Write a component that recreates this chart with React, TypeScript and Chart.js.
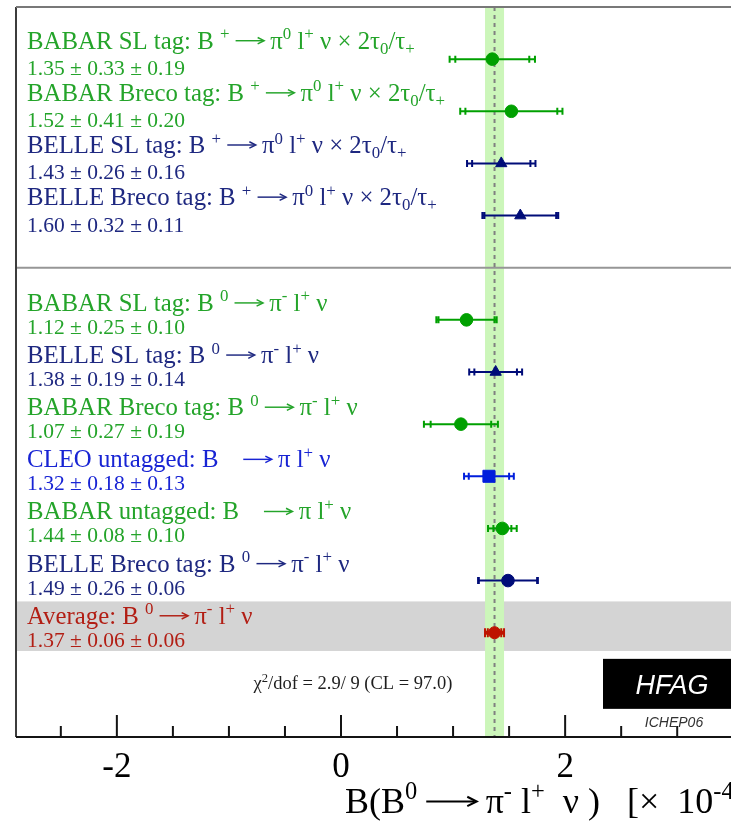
import React, { useEffect, useRef } from 'react';
import { Chart, registerables } from 'chart.js';
Chart.register(...registerables);

// ---------- data ----------
const labels = [
  'BABAR SL tag: B ^{+} → π^{0} l^{+} ν × 2τ_{0}/τ_{+}',
  'BABAR Breco tag: B ^{+} → π^{0} l^{+} ν × 2τ_{0}/τ_{+}',
  'BELLE SL tag: B ^{+} → π^{0} l^{+} ν × 2τ_{0}/τ_{+}',
  'BELLE Breco tag: B ^{+} → π^{0} l^{+} ν × 2τ_{0}/τ_{+}',
  'BABAR SL tag: B ^{0} → π^{-} l^{+} ν',
  'BELLE SL tag: B ^{0} → π^{-} l^{+} ν',
  'BABAR Breco tag: B ^{0} → π^{-} l^{+} ν',
  'CLEO untagged: B    → π l^{+} ν',
  'BABAR untagged: B    → π l^{+} ν',
  'BELLE Breco tag: B ^{0} → π^{-} l^{+} ν',
  'Average: B ^{0} → π^{-} l^{+} ν',
];
const values = [1.35, 1.52, 1.43, 1.60, 1.12, 1.38, 1.07, 1.32, 1.44, 1.49, 1.37];
const statErr = [0.33, 0.41, 0.26, 0.32, 0.25, 0.19, 0.27, 0.18, 0.08, 0.26, 0.06];
const systErr = [0.19, 0.20, 0.16, 0.11, 0.10, 0.14, 0.19, 0.13, 0.10, 0.06, 0.06];
const rows = [0, 1, 2, 3, 5, 6, 7, 8, 9, 10, 11];
const experiments = ['BABAR', 'BABAR', 'BELLE', 'BELLE', 'BABAR', 'BELLE', 'BABAR', 'CLEO', 'BABAR', 'BELLE', 'AVG'];
const markerStyles = ['circle', 'circle', 'triangle', 'triangle', 'circle', 'triangle', 'circle', 'rect', 'circle', 'circle', 'circle'];
const separatorRow = 4;
const infoRow = 12;
const xLabelledTicks = [-2, 0, 2];
const chi2Text = 'χ^{2}/dof = 2.9/ 9 (CL = 97.0)';
const xTitle = 'B(B^{0} → π^{-} l^{+}  ν )   [×  10^{-4}';
const logoText = 'HFAG';
const logoSub = 'ICHEP06';

const textColors: Record<string, string> = {
  BABAR: 'rgb(36,164,42)',
  BELLE: 'rgb(30,40,128)',
  CLEO: 'rgb(24,36,212)',
  AVG: 'rgb(178,30,20)',
};
const markerColors: Record<string, string> = {
  BABAR: 'rgb(0,160,0)',
  BELLE: 'rgb(0,12,120)',
  CLEO: 'rgb(0,30,220)',
  AVG: 'rgb(190,20,0)',
};

const SERIF = '"Liberation Serif", "DejaVu Serif", serif';
const SANS = '"Liberation Sans", Arial, sans-serif';

type Part = { t: string; k: number };

function parseRich(s: string): Part[] {
  const parts: Part[] = [];
  let i = 0;
  while (i < s.length) {
    if ((s[i] === '^' || s[i] === '_') && s[i + 1] === '{') {
      const end = s.indexOf('}', i);
      parts.push({ t: s.slice(i + 2, end), k: s[i] === '^' ? 1 : -1 });
      i = end + 1;
    } else if (s[i] === '→') {
      parts.push({ t: '→', k: 2 });
      i++;
    } else {
      let j = i;
      while (j < s.length && s[j] !== '→' && !((s[j] === '^' || s[j] === '_') && s[j + 1] === '{')) j++;
      parts.push({ t: s.slice(i, j), k: 0 });
      i = j;
    }
  }
  return parts;
}

function drawRich(
  ctx: CanvasRenderingContext2D,
  s: string,
  x: number,
  y: number,
  size: number,
  family: string,
  align: 'left' | 'center' = 'left',
  arrowEm = 1.15,
) {
  const parts = parseRich(s);
  const fontFor = (k: number) => `${k === 1 || k === -1 ? size * 0.68 : size}px ${family}`;
  const widthOf = (p: Part) => {
    if (p.k === 2) return size * arrowEm;
    ctx.font = fontFor(p.k);
    return ctx.measureText(p.t).width;
  };
  let total = 0;
  for (const p of parts) total += widthOf(p);
  let cx = align === 'center' ? x - total / 2 : x;
  ctx.textAlign = 'left';
  ctx.textBaseline = 'alphabetic';
  for (const p of parts) {
    const w = widthOf(p);
    if (p.k === 2) {
      const ay = y - size * 0.32;
      const lw = Math.max(1, size / 17);
      ctx.save();
      ctx.strokeStyle = ctx.fillStyle as string;
      ctx.lineWidth = lw;
      ctx.beginPath();
      ctx.moveTo(cx, ay);
      ctx.lineTo(cx + w - lw, ay);
      ctx.stroke();
      ctx.beginPath();
      const hx = cx + w;
      const hl = size * 0.26;
      ctx.moveTo(hx - hl, ay - hl * 0.5);
      ctx.lineTo(hx, ay);
      ctx.lineTo(hx - hl, ay + hl * 0.5);
      ctx.stroke();
      ctx.restore();
    } else {
      ctx.font = fontFor(p.k);
      const dy = p.k === 1 ? -size * 0.38 : p.k === -1 ? size * 0.2 : 0;
      ctx.fillText(p.t, cx, y + dy);
    }
    cx += w;
  }
}

const decorPlugin = {
  id: 'decor',
  beforeDatasetsDraw(chart: any) {
    const { ctx, chartArea } = chart;
    const xs = chart.scales.x;
    const ys = chart.scales.y;
    const avgIdx = values.length - 1;
    const avg = values[avgIdx];
    const avgTot = Math.hypot(statErr[avgIdx], systErr[avgIdx]);
    ctx.save();
    // gray band for average row
    const gTop = ys.getPixelForValue(rows[avgIdx] - 0.6);
    const gBot = ys.getPixelForValue(rows[avgIdx] + 0.35);
    ctx.fillStyle = 'rgb(212,212,212)';
    ctx.fillRect(chartArea.left, gTop, chart.width - chartArea.left, gBot - gTop);
    // green band
    const bL = xs.getPixelForValue(avg - avgTot);
    const bR = xs.getPixelForValue(avg + avgTot);
    ctx.fillStyle = 'rgb(204,246,186)';
    ctx.fillRect(bL, chartArea.top, bR - bL, chartArea.bottom - chartArea.top);
    // separator
    const sy = ys.getPixelForValue(separatorRow);
    ctx.strokeStyle = 'rgb(150,150,150)';
    ctx.lineWidth = 2;
    ctx.beginPath();
    ctx.moveTo(chartArea.left, sy);
    ctx.lineTo(chart.width, sy);
    ctx.stroke();
    // dashed average line
    const ax = xs.getPixelForValue(avg);
    ctx.strokeStyle = 'rgb(128,128,128)';
    ctx.setLineDash([4, 4]);
    ctx.beginPath();
    ctx.moveTo(ax, chartArea.top);
    ctx.lineTo(ax, chartArea.bottom);
    ctx.stroke();
    ctx.setLineDash([]);

    // labels
    for (let i = 0; i < values.length; i++) {
      const y = ys.getPixelForValue(rows[i]);
      const col = textColors[experiments[i]];
      ctx.fillStyle = col;
      const plus = labels[i].includes('_{');
      drawRich(ctx, labels[i], 27, y + (plus ? -10.5 : -9), 24.8, SERIF, 'left', 1.15);
      const vt = `${values[i].toFixed(2)} ± ${statErr[i].toFixed(2)} ± ${systErr[i].toFixed(2)}`;
      ctx.fillStyle = col;
      ctx.font = `21.5px ${SERIF}`;
      ctx.fillText(vt, 27, y + (plus ? 16 : 14));
    }

    // error bars
    for (let i = 0; i < values.length; i++) {
      const y = ys.getPixelForValue(rows[i]);
      const v = values[i];
      const tot = Math.hypot(statErr[i], systErr[i]);
      const col = markerColors[experiments[i]];
      const isAvg = experiments[i] === 'AVG';
      ctx.strokeStyle = col;
      ctx.lineWidth = isAvg ? 4 : 2;
      const xl = xs.getPixelForValue(v - tot);
      const xr = xs.getPixelForValue(v + tot);
      ctx.beginPath();
      ctx.moveTo(xl, y);
      ctx.lineTo(xr, y);
      ctx.stroke();
      ctx.lineWidth = 2;
      const caps = [v - tot, v - statErr[i], v + statErr[i], v + tot];
      const h = isAvg ? 4.5 : 3.5;
      ctx.beginPath();
      for (const c of caps) {
        const cx = xs.getPixelForValue(c);
        ctx.moveTo(cx, y - h);
        ctx.lineTo(cx, y + h);
      }
      ctx.stroke();
    }
    ctx.restore();
  },
  afterDraw(chart: any) {
    const { ctx, chartArea } = chart;
    const xs = chart.scales.x;
    const ys = chart.scales.y;
    ctx.save();
    // frame
    ctx.strokeStyle = 'rgb(60,60,60)';
    ctx.lineWidth = 2;
    ctx.beginPath();
    ctx.moveTo(chartArea.left, chartArea.bottom);
    ctx.lineTo(chartArea.left, chartArea.top);
    ctx.stroke();
    ctx.strokeStyle = 'rgb(120,120,120)';
    ctx.beginPath();
    ctx.moveTo(chartArea.left, chartArea.top);
    ctx.lineTo(chart.width, chartArea.top);
    ctx.stroke();
    ctx.strokeStyle = 'rgb(20,20,20)';
    ctx.beginPath();
    ctx.moveTo(chartArea.left, chartArea.bottom);
    ctx.lineTo(chart.width, chartArea.bottom);
    ctx.stroke();
    // ticks (inside, upward)
    ctx.beginPath();
    for (const t of xs.ticks) {
      const major = xLabelledTicks.some((m) => Math.abs(m - t.value) < 1e-6);
      const px = xs.getPixelForValue(t.value);
      ctx.moveTo(px, chartArea.bottom);
      ctx.lineTo(px, chartArea.bottom - (major ? 22 : 11));
    }
    ctx.stroke();

    // chi2 text
    const iy = ys.getPixelForValue(infoRow);
    ctx.fillStyle = 'rgb(30,30,30)';
    drawRich(ctx, chi2Text, 353, iy + 4, 18.5, SERIF, 'center');

    // HFAG logo
    const bx = 603;
    ctx.fillStyle = '#000';
    ctx.fillRect(bx, iy - 26, chart.width - bx, 50);
    ctx.fillStyle = '#fff';
    ctx.font = `italic 27px ${SANS}`;
    ctx.textAlign = 'center';
    ctx.textBaseline = 'alphabetic';
    ctx.fillText(logoText, 672, iy + 9);
    ctx.fillStyle = 'rgb(50,50,50)';
    ctx.font = `italic 14px ${SANS}`;
    ctx.fillText(logoSub, 674, iy + 42);

    // x title
    ctx.fillStyle = '#000';
    drawRich(ctx, xTitle, 345, 813, 36, SERIF, 'left', 1.4);
    ctx.restore();
  },
};

export default function App() {
  const ref = useRef<HTMLCanvasElement>(null);
  useEffect(() => {
    if (!ref.current) return;
    const chart = new Chart(ref.current, {
      type: 'scatter',
      data: {
        datasets: [
          {
            data: values.map((v, i) => ({ x: v, y: rows[i] })),
            pointStyle: markerStyles as any,
            pointRadius: markerStyles.map((m, i) => (experiments[i] === 'AVG' ? 6 : m === 'triangle' ? 6.5 : m === 'rect' ? 8.5 : 6.3)),
            pointBackgroundColor: experiments.map((e) => markerColors[e]),
            pointBorderColor: experiments.map((e) => markerColors[e]),
            pointBorderWidth: 1,
          },
        ],
      },
      options: {
        animation: false,
        responsive: false,
        devicePixelRatio: 1,
        layout: { autoPadding: false, padding: { left: 16, top: 7, right: 0, bottom: 0 } },
        plugins: { legend: { display: false }, tooltip: { enabled: false } },
        scales: {
          x: {
            type: 'linear',
            min: -2.9,
            max: 3.48,
            grid: { display: false, drawTicks: false },
            border: { display: false },
            afterFit: (scale: any) => {
              scale.height = 91;
              scale.paddingLeft = 0;
              scale.paddingRight = 0;
            },
            ticks: {
              stepSize: 0.5,
              includeBounds: false,
              autoSkip: false,
              maxRotation: 0,
              padding: 10,
              color: '#000',
              font: { family: SERIF, size: 35 },
              callback: (v: any) => (xLabelledTicks.some((m) => Math.abs(m - v) < 1e-6) ? String(Math.round(v)) : ''),
            },
          },
          y: {
            type: 'linear',
            display: false,
            reverse: true,
            min: -1,
            max: 13,
          },
        },
      },
      plugins: [decorPlugin],
    });
    return () => chart.destroy();
  }, []);
  return (
    <div style={{ position: 'absolute', left: 0, top: 0, width: 731, height: 828, background: '#fff' }}>
      <canvas ref={ref} width={731} height={828} style={{ display: 'block' }} />
    </div>
  );
}
